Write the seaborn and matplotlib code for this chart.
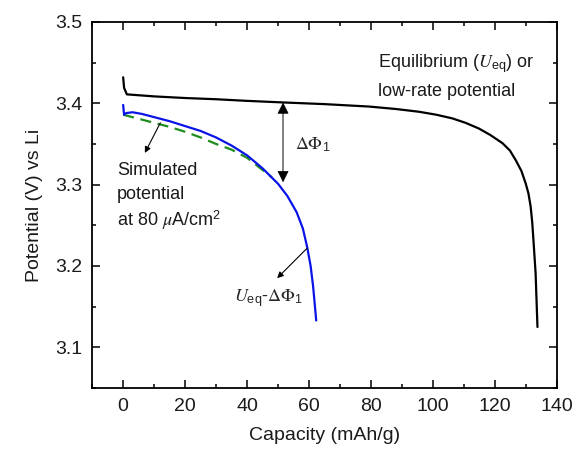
import matplotlib
matplotlib.use("Agg")
import matplotlib.pyplot as plt
import seaborn as sns
import pandas as pd
from matplotlib.ticker import MultipleLocator

# Equilibrium (low-rate) discharge curve
eq_capacity = [0.0, 0.3, 1.2, 10, 20, 30, 40, 52, 65, 79.4, 88, 95.5, 101, 106.2,
               110.5, 114.8, 118.5, 122.4, 124.8, 126.7, 128.5, 129.9, 130.8,
               131.5, 132.0, 132.4, 133.1, 133.7]
eq_potential = [3.432, 3.419, 3.411, 3.4085, 3.4065, 3.405, 3.403, 3.401, 3.399,
                3.396, 3.393, 3.3896, 3.386, 3.3815, 3.376, 3.369, 3.361, 3.351,
                3.342, 3.330, 3.317, 3.3015, 3.289, 3.273, 3.254, 3.232, 3.191, 3.125]

# U_eq - delta Phi_1 at 80 uA/cm2
shift_capacity = [0.0, 0.3, 1.0, 3, 6, 10, 15, 20, 25, 30, 35, 40, 45, 50, 53,
                  56, 58, 59.4, 60.5, 61.3, 61.9, 62.3]
shift_potential = [3.398, 3.386, 3.388, 3.389, 3.387, 3.383, 3.378, 3.372, 3.366,
                   3.358, 3.348, 3.336, 3.320, 3.301, 3.286, 3.266, 3.246, 3.223,
                   3.200, 3.175, 3.150, 3.133]

# Simulated potential at 80 uA/cm2
sim_capacity = [0.0, 2, 5, 10, 15, 20, 25, 30, 35, 40, 45, 48]
sim_potential = [3.386, 3.384, 3.381, 3.376, 3.371, 3.365, 3.358, 3.350, 3.343,
                 3.333, 3.318, 3.309]

x_ticks = [0, 20, 40, 60, 80, 100, 120, 140]
y_ticks = [3.1, 3.2, 3.3, 3.4, 3.5]

sns.set_style("ticks")
plt.rcParams["font.family"] = ["Liberation Sans", "DejaVu Sans"]
plt.rcParams["mathtext.fontset"] = "stix"

fig = plt.figure(figsize=(5.76, 4.53), dpi=100)
ax = fig.add_axes([0.16, 0.1435, 0.807, 0.808])

eq_df = pd.DataFrame({"cap": eq_capacity, "pot": eq_potential})
shift_df = pd.DataFrame({"cap": shift_capacity, "pot": shift_potential})
sim_df = pd.DataFrame({"cap": sim_capacity, "pot": sim_potential})

sns.lineplot(data=eq_df, x="cap", y="pot", sort=False, color="black", lw=1.6, ax=ax)
sns.lineplot(data=sim_df, x="cap", y="pot", sort=False, color="#1e8c1e", lw=1.6,
             ax=ax, dashes=False, linestyle=(0, (5, 3)))
sns.lineplot(data=shift_df, x="cap", y="pot", sort=False, color="#0a14e6", lw=1.6, ax=ax)

ax.set_xlim(-10, 140)
ax.set_ylim(3.05, 3.5)
ax.set_xticks(x_ticks)
ax.set_yticks(y_ticks)
ax.xaxis.set_minor_locator(MultipleLocator(10))
ax.yaxis.set_minor_locator(MultipleLocator(0.05))
ax.tick_params(which="both", direction="in", top=True, right=True, width=1.1,
               labelsize=14, color="black", labelcolor="#1a1a1a")
ax.tick_params(which="major", length=6, pad=7)
ax.tick_params(which="minor", length=3)
for s in ax.spines.values():
    s.set_linewidth(1.3)
    s.set_color("black")

ax.set_xlabel("Capacity (mAh/g)", fontsize=14, labelpad=9, color="#1a1a1a")
ax.set_ylabel("Potential (V) vs Li", fontsize=14, labelpad=9, color="#1a1a1a")

# delta Phi_1 double arrow between the two curves
x_arr = 51.6
ax.plot([x_arr, x_arr], [3.396, 3.308], color="#777777", lw=1.3)
for tip, tail in [(3.401, 3.388), (3.303, 3.316)]:
    ax.annotate("", xy=(x_arr, tip), xytext=(x_arr, tail),
                arrowprops=dict(arrowstyle="-|>", color="black", lw=0.5,
                                mutation_scale=18, shrinkA=0, shrinkB=0))
ax.text(55.5, 3.349, r"$\Delta\Phi_{\mathregular{1}}$", fontsize=13, va="center",
        ha="left")

txt_kw = dict(fontsize=13, color="#1a1a1a")
arrow_kw = dict(arrowstyle="-|>", color="black", lw=0.8, mutation_scale=9,
                shrinkA=0, shrinkB=0)

ax.annotate("", xy=(7.0, 3.339), xytext=(12.0, 3.376), arrowprops=arrow_kw)
ax.text(-2, 3.318, "Simulated", va="center", ha="left", **txt_kw)
ax.text(-2, 3.288, "potential", va="center", ha="left", **txt_kw)
ax.text(-2, 3.256, r"at 80 $\mu$A/cm$^{\mathregular{2}}$", va="center", ha="left",
        **txt_kw)

ax.annotate("", xy=(49.7, 3.185), xytext=(59.4, 3.222), arrowprops=arrow_kw)
ax.text(35.8, 3.160, r"$U_{\mathregular{eq}}$-$\Delta\Phi_{\mathregular{1}}$",
        va="center", ha="left", fontsize=13)

ax.text(82.4, 3.449, r"Equilibrium ($U_{\mathregular{eq}}$) or", va="center",
        ha="left", **txt_kw)
ax.text(82.4, 3.414, "low-rate potential", va="center", ha="left", **txt_kw)

fig.savefig("out.png", dpi=100)
